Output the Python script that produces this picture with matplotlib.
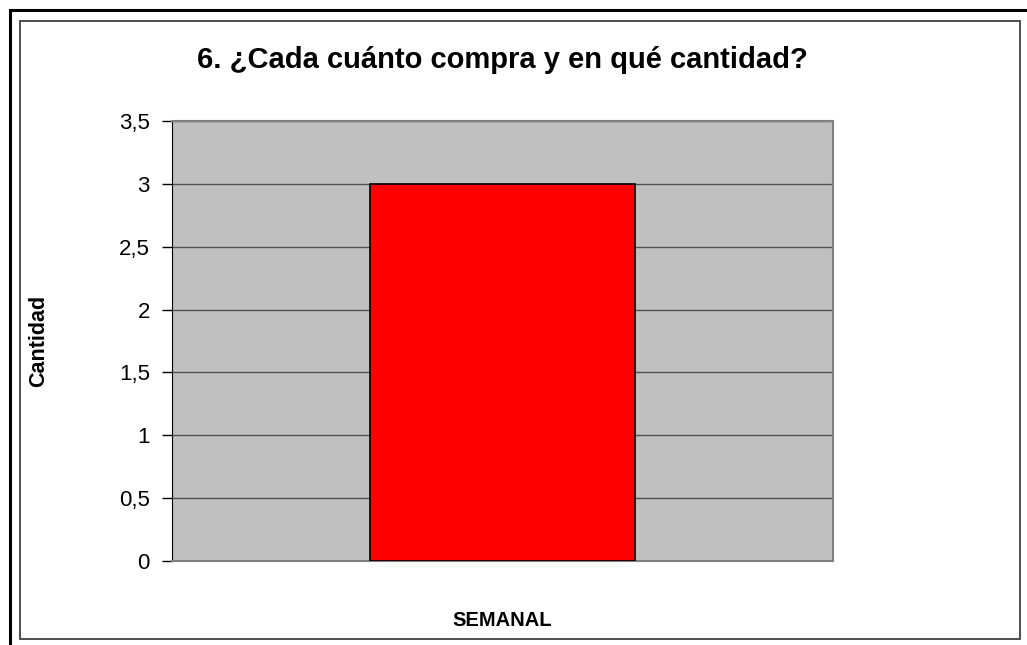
import matplotlib.pyplot as plt
from matplotlib.patches import Rectangle
from matplotlib.lines import Line2D
from matplotlib.ticker import FuncFormatter

categories = ['SEMANAL']
values = [3]
yticks = [0, 0.5, 1, 1.5, 2, 2.5, 3, 3.5]

plt.rcParams['font.family'] = ['Liberation Sans', 'DejaVu Sans']

W, H = 1027, 645
fig = plt.figure(figsize=(W / 100, H / 100), dpi=100)

# frames around the chart
fig.add_artist(Line2D([10 / W, 10 / W], [0, 1 - 10 / H], color='black', lw=2.2))
fig.add_artist(Line2D([10 / W, 1], [1 - 10 / H, 1 - 10 / H], color='black', lw=2.2))
fig.add_artist(Rectangle((20 / W, 1 - 639 / H), 1000 / W, 618 / H, fill=False,
                         edgecolor='#404040', lw=1.3, transform=fig.transFigure))

ax = fig.add_axes([172 / W, 1 - 561 / H, 661 / W, 440 / H])
ax.set_facecolor('#C0C0C0')
ax.bar([0], values, width=0.4, color='#FF0000', edgecolor='black', lw=1.2, zorder=3)
ax.set_xlim(-0.5, 0.5)
ax.set_ylim(0, 3.5)
ax.set_yticks(yticks)
ax.yaxis.set_major_formatter(FuncFormatter(lambda v, p: f'{v:g}'.replace('.', ',')))
ax.grid(axis='y', color='#505050', lw=1, zorder=1)
ax.set_xticks([])
for s in ['top', 'right', 'bottom']:
    ax.spines[s].set_color('#808080')
    ax.spines[s].set_linewidth(1.5)
ax.spines['left'].set_color('black')
ax.tick_params(axis='y', length=7, width=1, labelsize=16, pad=9)

ax.set_title('6. ¿Cada cuánto compra y en qué cantidad?', fontsize=21,
             fontweight='bold', pad=38)
ax.set_ylabel('Cantidad', fontsize=15.5, fontweight='bold', labelpad=50)
ax.set_xlabel(categories[0], fontsize=14.5, fontweight='bold', labelpad=36)

fig.savefig('out.png', dpi=100)
